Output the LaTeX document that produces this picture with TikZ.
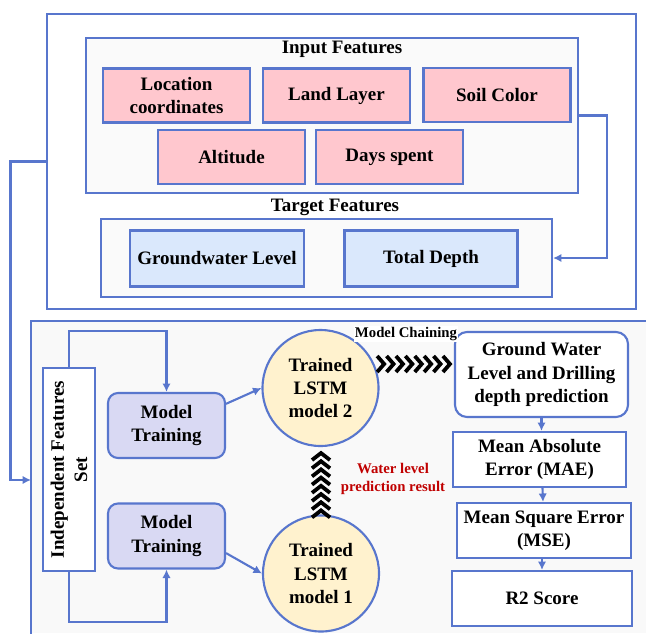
\documentclass[tikz,border=0pt]{standalone}
\usepackage{fontspec}
\setmainfont{Liberation Serif}
\usetikzlibrary{calc,arrows.meta}
\definecolor{lineblue}{RGB}{88,118,205}
\definecolor{pinkfill}{RGB}{255,199,206}
\definecolor{bluefill}{RGB}{218,232,252}
\definecolor{lavfill}{RGB}{217,217,243}
\definecolor{creamfill}{RGB}{255,242,206}
\definecolor{panelgray}{RGB}{249,249,249}
\definecolor{redtext}{RGB}{192,0,0}
\newlength\pxl
\setlength\pxl{0.025cm}
\tikzset{
  txt/.style={font=\bfseries\fontsize{13.5}{16.5}\selectfont,align=center},
  smalltxt/.style={font=\bfseries\fontsize{10.5}{13}\selectfont,align=center},
  frame/.style={draw=lineblue,line width=1.5pt},
  featbox/.style={frame,txt,fill=pinkfill,minimum width=147\pxl,minimum height=54\pxl,inner sep=1pt},
  targbox/.style={frame,txt,fill=bluefill,minimum width=173\pxl,minimum height=56\pxl,inner sep=1pt},
  trainbox/.style={frame,txt,fill=lavfill,rounded corners=2.5mm,minimum width=117\pxl,minimum height=65\pxl},
  lstm/.style={frame,txt,fill=creamfill,circle,minimum size=116\pxl,inner sep=0pt},
  evalbox/.style={frame,txt,fill=white,minimum height=55\pxl,inner sep=1pt},
  link/.style={draw=lineblue,line width=1.5pt,-{Latex[length=6pt,width=6pt]}},
  chev/.style={draw=black,line width=2.7pt}
}
\begin{document}
\begin{tikzpicture}[x=0.025cm,y=-0.025cm]
\useasboundingbox (0,0) rectangle (646,633);
\node[frame,minimum width=589\pxl,minimum height=295\pxl] (topframe) at (341.5,161.5) {};
\node[frame,fill=white!98!black,minimum width=492\pxl,minimum height=155\pxl] (inputs) at (332,115.5) {};
\node[txt] (inputlbl) at (342,49) {Input Features};
\node[featbox] (loc) at (176.5,95.5) {Location\\coordinates};
\node[featbox] (land) at (336.5,95.5) {Land Layer};
\node[featbox] (soil) at (497,95) {Soil Color};
\node[featbox] (alt) at (231.5,157) {Altitude};
\node[featbox] (days) at (389.5,157) {Days spent};
\node[txt] (targetlbl) at (335,207) {Target Features};
\node[frame,fill=white!98!black,minimum width=451\pxl,minimum height=78\pxl] (targets) at (326.5,258) {};
\node[targbox,minimum width=174\pxl] (gwl) at (217,258.5) {Groundwater Level};
\node[targbox] (depth) at (431,258.5) {Total Depth};
\draw[link] (inputs.east) -- ++(28,0) |- (targets.east);
\fill[panelgray] (31,321) rectangle (646,633);
\draw[frame] (646,321) -- (31,321) -- (31,640);
\coordinate (panelin) at (31,480);
\draw[link] (topframe.west) -- ++(-35.5,0) |- (panelin);
\node[frame,txt,fill=white,rotate=90,minimum width=203\pxl,minimum height=52\pxl,inner sep=1pt] (ifs) at (69,469.5) {Independent Features\\Set};
\node[trainbox] (mt2) at (166.5,425.5) {Model\\Training};
\node[trainbox] (mt1) at (166.5,536) {Model\\Training};
\node[lstm] (m2) at (320.5,388) {Trained\\LSTM\\model 2};
\node[lstm] (m1) at (321,573.5) {Trained\\LSTM\\model 1};
\draw[link] (ifs.east) -- ++(0,-36) -| (mt2.north);
\draw[link] (ifs.west) -- ++(0,50) -| (mt1.south);
\draw[link] (mt2.20) -- (m2.west);
\draw[link] (mt1.-16) -- (m1.west);
\node[frame,txt,fill=white,rounded corners=3mm,minimum width=173\pxl,minimum height=85\pxl,inner sep=1pt] (gw) at (541.5,374.5) {Ground Water\\Level and Drilling\\depth prediction};
\node[evalbox,minimum width=173\pxl] (mae) at (539.5,459.5) {Mean Absolute\\Error (MAE)};
\node[evalbox,minimum width=174\pxl] (mse) at (544,530.5) {Mean Square Error\\(MSE)};
\node[evalbox,minimum width=180\pxl] (r2) at (542,598.5) {R2 Score};
\draw[link] (gw.south) -- (gw.south |- mae.north);
\draw[link] (mae.south) ++(3,0) -- ($(mse.north)+(-1,0)$);
\draw[link] (mse.south) ++(-2,0) -- ($(r2.north)+(0,0)$);
\node[smalltxt,fill=white,inner sep=1pt] (chainlbl) at (406,334) {Model Chaining};
\foreach \k in {0,...,7}
  \draw[chev] ($(gw.west)+(-4-9.4*\k,-10.5)$) ++(-7,-8) -- ++(7,8) -- ++(-7,8);
\foreach \k in {0,...,7}
  \draw[chev] ($(m1.north)+(0,-4-8.2*\k)$) ++(-9,7) -- ++(9,-7) -- ++(9,7);
\node[smalltxt,text=redtext] (wlpr) at (393,479) {Water level\\prediction result};
\end{tikzpicture}
\end{document}
